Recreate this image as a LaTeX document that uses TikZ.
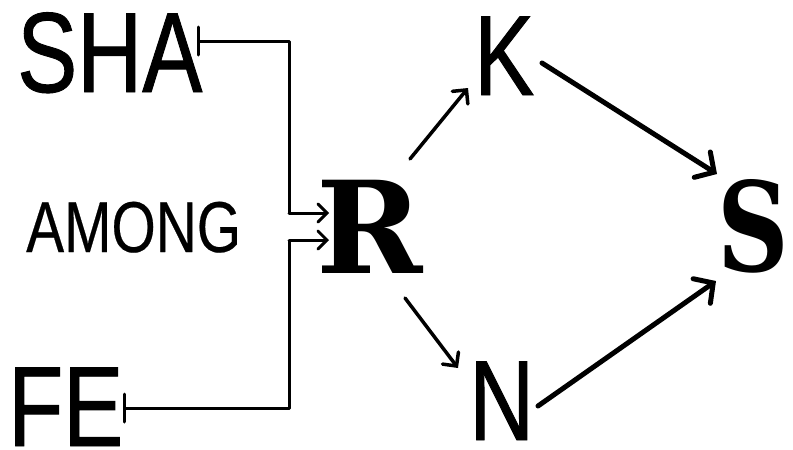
\documentclass[tikz,border=0pt]{standalone}
\usepackage{fontspec}
\usetikzlibrary{arrows.meta}
\newfontfamily\condfont[FakeStretch=0.79,FakeBold=0.8]{Liberation Sans}
\newfontfamily\lightcond[FakeStretch=0.79,FakeBold=0.3]{Liberation Sans}
\newfontfamily\slabfont{DejaVu Serif}
\newfontfamily\slabcond[FakeStretch=0.8]{DejaVu Serif}
\begin{document}
\begin{tikzpicture}[x=1pt,y=-1pt,
  lbl/.style={inner sep=0pt, anchor=base west},
  big/.style={lbl, font=\condfont\fontsize{114}{114}\selectfont},
  mid/.style={lbl, font=\lightcond\fontsize{72}{72}\selectfont},
  heavy/.style={lbl, font=\slabfont\bfseries\fontsize{128}{128}\selectfont},
  heavycond/.style={lbl, font=\slabcond\bfseries\fontsize{124}{124}\selectfont},
  brk/.style={line width=3pt, line join=round},
  teestart/.style={brk, {Bar[width=28pt,line cap=round]}-},
  inarr/.style={line width=3pt, line cap=round, -{Straight Barb[length=9pt,width=18pt,line cap=round]}},
  thinarr/.style={line width=3.5pt, line cap=round, -{Straight Barb[length=10pt,width=20pt,line cap=round]}},
  thickarr/.style={line width=5pt, line cap=round, -{Straight Barb[length=14pt,width=30pt,line cap=round]}}
]
\fill[white] (0,0) rectangle (793,450);
\useasboundingbox (0,0) rectangle (793,450);

\node[big] (SHA) at (17,92) {SHA};
\node[mid] (AMONG) at (26,252) {AMONG};
\node[big] (FE) at (8,446) {FE};
\node[big] (K) at (474,95) {K};
\node[big] (N) at (469,440) {N};
\node[heavy] (R) at (316,273) {R};
\node[heavycond] (S) at (717,271) {S};

% bracket joining SHA and FE into R
\coordinate (shaend) at (197,41);
\coordinate (feend) at (123,408);
\coordinate (ta) at (289,213);
\coordinate (tb) at (289,240);
\coordinate (rin1) at (329,213);
\coordinate (rin2) at (329,240);
\draw[teestart] (shaend) -| (ta);
\draw[inarr] (ta) -- (rin1);
\draw[teestart] (feend) -| (tb);
\draw[inarr] (tb) -- (rin2);

% diagonal arrows
\coordinate (rk1) at (410,159);
\coordinate (rk2) at (468,88);
\coordinate (rn1) at (405,298);
\coordinate (rn2) at (458,368);
\coordinate (ks1) at (542,63);
\coordinate (ks2) at (717,174);
\coordinate (ns1) at (538,406);
\coordinate (ns2) at (716,281);
\draw[thinarr] (rk1) -- (rk2);
\draw[thinarr] (rn1) -- (rn2);
\draw[thickarr] (ks1) -- (ks2);
\draw[thickarr] (ns1) -- (ns2);
\end{tikzpicture}
\end{document}
